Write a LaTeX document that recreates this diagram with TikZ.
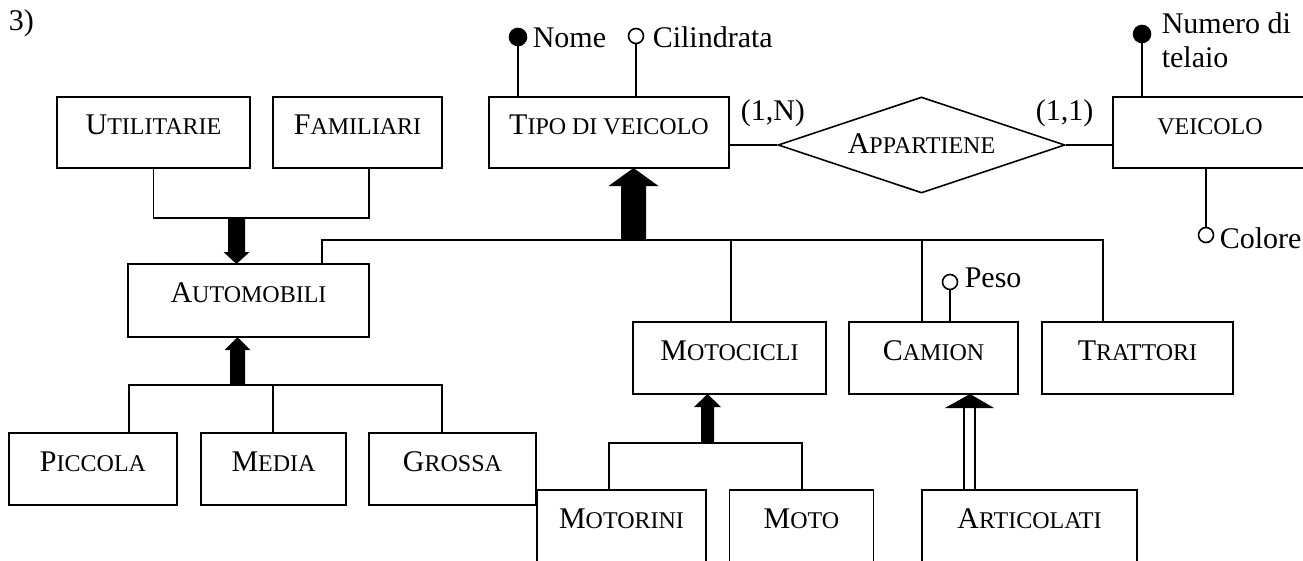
\documentclass[tikz,border=0pt]{standalone}
\usepackage{fontspec}
\setmainfont{Liberation Serif}
\usetikzlibrary{shapes.geometric}
\newcommand\smc[1]{{\fontsize{24}{26}\selectfont #1}}
% #1 centre x, #2 tip y, #3 tail y, #4 half shaft, #5 half head, #6 head length (signed)
\newcommand\isaarrow[6]{\fill (#1-#4,#3) -- (#1-#4,#2+#6) -- (#1-#5,#2+#6) -- (#1,#2) -- (#1+#5,#2+#6) -- (#1+#4,#2+#6) -- (#1+#4,#3) -- cycle;}
\begin{document}
\begin{tikzpicture}[x=1pt,y=-1pt,line width=1.6pt,
  txt/.style={font=\fontsize{30}{33.5}\selectfont,inner sep=0pt},
  ent/.style={txt,draw,rectangle,text height=22pt,text depth=18pt},
  rel/.style={txt,draw,diamond,aspect=3,text height=20pt,text depth=4pt,minimum width=287pt,minimum height=96pt},
  keyattr/.style={circle,fill=black,draw,inner sep=0pt,minimum size=17pt},
  attr/.style={circle,fill=white,draw,inner sep=0pt,minimum size=15pt},
  lbl/.style={txt,anchor=base west}]
\useasboundingbox (0,0) rectangle (1303,560);
\clip (0,0) rectangle (1303,560);

\node[lbl] (num) at (8,30) {3)};

% entities
\node[ent,minimum width=193pt,minimum height=71pt] (utilitarie) at (153.5,132.5) {U\smc{TILITARIE}};
\node[ent,minimum width=169pt,minimum height=71pt] (familiari) at (357.5,132.5) {F\smc{AMILIARI}};
\node[ent,minimum width=240pt,minimum height=71pt] (tipo) at (609,132.5) {T\smc{IPO DI VEICOLO}};
\node[ent,minimum width=194pt,minimum height=71pt] (veicolo) at (1210,132.5) {\smc{VEICOLO}};
\node[ent,minimum width=241pt,minimum height=73pt] (automobili) at (248.5,300.5) {A\smc{UTOMOBILI}};
\node[ent,minimum width=193pt,minimum height=72pt] (motocicli) at (729.5,358) {M\smc{OTOCICLI}};
\node[ent,minimum width=169pt,minimum height=72pt] (camion) at (933.5,358) {C\smc{AMION}};
\node[ent,minimum width=191pt,minimum height=72pt] (trattori) at (1137.5,358) {T\smc{RATTORI}};
\node[ent,minimum width=168pt,minimum height=72pt] (piccola) at (93,469) {P\smc{ICCOLA}};
\node[ent,minimum width=145pt,minimum height=72pt] (media) at (273.5,469) {M\smc{EDIA}};
\node[ent,minimum width=167pt,minimum height=72pt] (grossa) at (452.5,469) {G\smc{ROSSA}};
\node[ent,minimum width=169pt,minimum height=72pt] (motorini) at (621.5,526) {M\smc{OTORINI}};
\node[ent,minimum width=144pt,minimum height=72pt] (moto) at (801.5,526) {M\smc{OTO}};
\node[ent,minimum width=215pt,minimum height=72pt] (articolati) at (1029.5,526) {A\smc{RTICOLATI}};

% relationship
\node[rel] (appartiene) at (921.5,145) {A\smc{PPARTIENE}};
\draw (appartiene.west -| tipo.east) -- (appartiene.west);
\draw (appartiene.east) -- (appartiene.east -| veicolo.west);
\node[lbl] (card1) at (740,120) {(1,N)};
\node[lbl] (card2) at (1035,120) {(1,1)};

% attributes
\node[keyattr] (nomec) at (518,37) {};
\draw (nomec |- tipo.north) -- (nomec);
\node[lbl] (nome) at (532,47) {Nome};
\node[attr] (cilc) at (636,36) {};
\draw (cilc |- tipo.north) -- (cilc);
\node[lbl] (cil) at (652,47) {Cilindrata};
\node[keyattr] (telc) at (1142,34) {};
\draw (telc |- veicolo.north) -- (telc);
\node[txt,anchor=north west,align=left] (tel) at (1161,12) {Numero di\\telaio};
\node[attr] (colc) at (1206,235) {};
\draw (colc |- veicolo.south) -- (colc);
\node[lbl] (col) at (1219,248) {Colore};
\node[attr] (pesoc) at (950,282) {};
\draw (pesoc |- camion.north) -- (pesoc);
\node[lbl] (peso) at (964,287) {Peso};

% generalization Utilitarie/Familiari -> Automobili
\coordinate (famj) at (369,168);
\draw (utilitarie.south) -- ++(0,49) -| (famj);
\isaarrow{236.5}{264}{217}{8.5}{13}{-12}

% generalization Tipo di veicolo
\coordinate (hl) at (322,240);
\coordinate (hr) at (1103,240);
\draw (automobili.north -| hl) |- (hr) -- (trattori.north -| hr);
\coordinate (mv) at (731,240);
\draw (mv) -- (motocicli.north -| mv);
\coordinate (cv) at (922,240);
\draw (cv) -- (camion.north -| cv);
\isaarrow{633.5}{168}{240}{12.5}{25}{18}

% generalization Automobili
\coordinate (ab1) at (129,385);
\coordinate (ab2) at (442,385);
\coordinate (abm) at (273,385);
\draw (piccola.north -| ab1) |- (ab2) -- (grossa.north -| ab2);
\draw (abm) -- (media.north -| abm);
\isaarrow{237.5}{337}{385}{7.5}{13}{13}

% generalization Motocicli
\coordinate (mb1) at (609,443);
\coordinate (mb2) at (802,443);
\draw (motorini.north -| mb1) |- (mb2) -- (moto.north -| mb2);
\isaarrow{707.5}{394}{443}{6.5}{13.5}{13}

% subset Articolati -> Camion
\coordinate (ct) at (970,394);
\fill (ct) -- (994,408) -- (945,408) -- cycle;
\coordinate (c1) at (964,408);
\coordinate (c2) at (975,408);
\draw (c1) -- (articolati.north -| c1);
\draw (c2) -- (articolati.north -| c2);
\end{tikzpicture}
\end{document}
